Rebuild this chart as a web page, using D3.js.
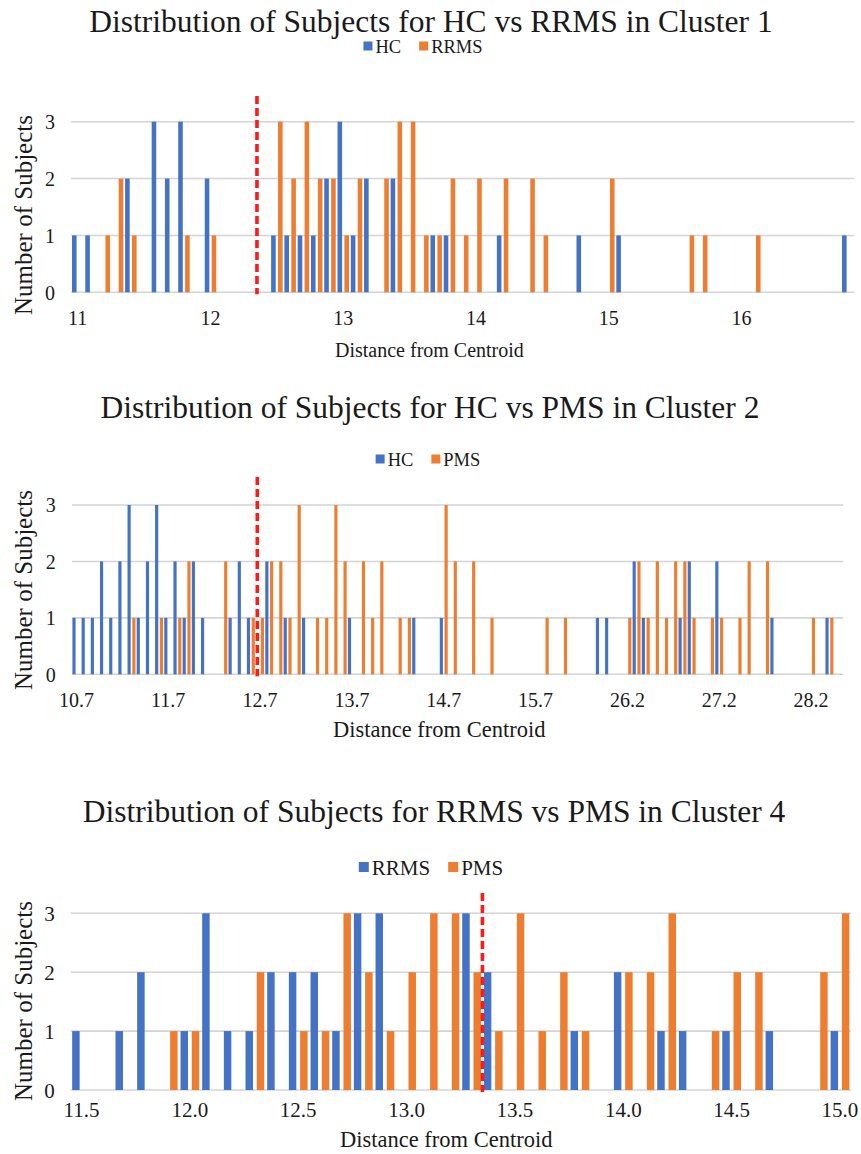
<!DOCTYPE html>
<html>
<head>
<meta charset="utf-8">
<script src="https://cdn.jsdelivr.net/npm/d3@7"></script>
<style>
  body { margin: 0; background: #fff; }
  svg { display: block; }
  text { font-family: "Liberation Serif", "Times New Roman", serif; fill: #1a1a1a; }
</style>
</head>
<body>
<svg id="chart" width="861" height="1154"></svg>
<script>
// ---- Cluster 1: HC vs RRMS (distance bins of 0.1) ----
const cluster1Distances = [
  11.0, 11.1, 11.2, 11.3, 11.4, 11.5, 11.6, 11.7, 11.8, 11.9,
  12.0, 12.1, 12.2, 12.3, 12.4, 12.5, 12.6, 12.7, 12.8, 12.9,
  13.0, 13.1, 13.2, 13.3, 13.4, 13.5, 13.6, 13.7, 13.8, 13.9,
  14.0, 14.1, 14.2, 14.3, 14.4, 14.5, 14.6, 14.7, 14.8, 14.9,
  15.0, 15.1, 15.2, 15.3, 15.4, 15.5, 15.6, 15.7, 15.8, 15.9,
  16.0, 16.1, 16.2, 16.3, 16.4, 16.5, 16.6, 16.7, 16.8];
const cluster1HC = [
  1, 1, 0, 0, 2, 0, 3, 2, 3, 0,
  2, 0, 0, 0, 0, 1, 1, 1, 1, 2,
  3, 1, 2, 0, 2, 0, 0, 1, 1, 0,
  0, 0, 1, 0, 0, 0, 0, 0, 1, 0,
  0, 1, 0, 0, 0, 0, 0, 0, 0, 0,
  0, 0, 0, 0, 0, 0, 0, 0, 1];
const cluster1RRMS = [
  0, 0, 1, 2, 1, 0, 0, 0, 1, 0,
  1, 0, 0, 0, 0, 3, 2, 3, 2, 2,
  1, 2, 0, 2, 3, 3, 1, 1, 2, 1,
  2, 0, 2, 0, 2, 1, 0, 0, 0, 0,
  2, 0, 0, 0, 0, 0, 1, 1, 0, 0,
  0, 1, 0, 0, 0, 0, 0, 0, 0];
const cluster1TickLabels = ["11", "12", "13", "14", "15", "16"];
const cluster1Cutoff = 12.35;

// ---- Cluster 2: HC vs PMS (two separate distance ranges) ----
const cluster2Distances = [
  10.7, 10.8, 10.9, 11.0, 11.1, 11.2, 11.3, 11.4, 11.5, 11.6,
  11.7, 11.8, 11.9, 12.0, 12.1, 12.2, 12.3, 12.4, 12.5, 12.6,
  12.7, 12.8, 12.9, 13.0, 13.1, 13.2, 13.3, 13.4, 13.5, 13.6,
  13.7, 13.8, 13.9, 14.0, 14.1, 14.2, 14.3, 14.4, 14.5, 14.6,
  14.7, 14.8, 14.9, 15.0, 15.1, 15.2, 15.3, 15.4, 15.5, 15.6,
  15.7, 15.8, 15.9, 16.0, 16.1, 16.2, 16.3, 16.4, 16.5, 16.6,
  26.2, 26.3, 26.4, 26.5, 26.6, 26.7, 26.8, 26.9, 27.0, 27.1,
  27.2, 27.3, 27.4, 27.5, 27.6, 27.7, 27.8, 27.9, 28.0, 28.1,
  28.2, 28.3, 28.4, 28.5];
const cluster2HC = [
  1, 1, 1, 2, 1, 2, 3, 1, 2, 3,
  1, 2, 1, 2, 1, 0, 0, 1, 2, 1,
  0, 2, 0, 1, 0, 1, 0, 0, 0, 0,
  1, 0, 0, 0, 0, 0, 0, 1, 0, 0,
  1, 0, 0, 0, 0, 0, 0, 0, 0, 0,
  0, 0, 0, 0, 0, 0, 0, 1, 1, 0,
  0, 2, 1, 0, 0, 0, 1, 2, 0, 0,
  2, 0, 0, 0, 0, 0, 1, 0, 0, 0,
  0, 0, 1, 0];
const cluster2PMS = [
  0, 0, 0, 0, 0, 0, 1, 0, 0, 1,
  0, 1, 2, 0, 0, 0, 2, 0, 0, 1,
  1, 2, 2, 1, 3, 0, 1, 1, 3, 2,
  0, 2, 1, 2, 0, 1, 1, 0, 0, 0,
  3, 2, 0, 2, 0, 1, 0, 0, 0, 0,
  0, 1, 0, 1, 0, 0, 0, 0, 0, 0,
  1, 2, 1, 2, 1, 2, 2, 1, 0, 1,
  1, 0, 1, 2, 0, 2, 0, 0, 0, 0,
  1, 0, 1, 0];
const cluster2TickLabels = ["10.7", "11.7", "12.7", "13.7", "14.7", "15.7", "26.2", "27.2", "28.2"];
const cluster2Cutoff = 12.67;

// ---- Cluster 4: RRMS vs PMS (distance bins of 0.1) ----
const cluster4Distances = [
  11.5, 11.6, 11.7, 11.8, 11.9, 12.0, 12.1, 12.2, 12.3, 12.4,
  12.5, 12.6, 12.7, 12.8, 12.9, 13.0, 13.1, 13.2, 13.3, 13.4,
  13.5, 13.6, 13.7, 13.8, 13.9, 14.0, 14.1, 14.2, 14.3, 14.4,
  14.5, 14.6, 14.7, 14.8, 14.9, 15.0];
const cluster4RRMS = [
  1, 0, 1, 2, 0, 1, 3, 1, 1, 2,
  2, 2, 1, 3, 3, 0, 0, 0, 3, 2,
  0, 0, 0, 1, 0, 2, 0, 1, 1, 0,
  1, 0, 1, 0, 0, 1];
const cluster4PMS = [
  0, 0, 0, 0, 1, 1, 0, 0, 2, 0,
  1, 1, 3, 2, 1, 2, 3, 3, 2, 1,
  3, 1, 2, 1, 0, 2, 2, 3, 0, 1,
  2, 2, 0, 0, 2, 3];
const cluster4TickLabels = ["11.5", "12.0", "12.5", "13.0", "13.5", "14.0", "14.5", "15.0"];
const cluster4Cutoff = 13.35;

const countTicks = [0, 1, 2, 3];
const seriesColors = ["#4472C4", "#ED7D31"];
const cutoffColor = "#FF1A1A";

const svg = d3.select("#chart");

function drawPanel(cfg) {
  const g = svg.append("g");
  const cats = cfg.distances.map(d => d.toFixed(1));

  const x = d3.scaleBand().domain(cats).range([cfg.left, cfg.right]).padding(0);
  const inner = d3.scaleBand().domain([0, 1]).range([0, x.bandwidth()])
    .paddingInner(0.337).paddingOuter(0.13);
  const y = d3.scaleLinear().domain([0, 3]).range([cfg.bottom, cfg.top]);

  // horizontal gridlines
  g.append("g").selectAll("line").data(countTicks).join("line")
    .attr("x1", cfg.left).attr("x2", cfg.right)
    .attr("y1", d => y(d)).attr("y2", d => y(d))
    .attr("stroke", "#d4d4d4").attr("stroke-width", 1.6);

  // y tick labels
  g.append("g").selectAll("text").data(countTicks).join("text")
    .attr("x", cfg.left - 16).attr("y", d => y(d)).attr("dy", "0.36em")
    .attr("text-anchor", "end").attr("font-size", cfg.tickSize)
    .text(d => d);

  // bars, one group per series
  cfg.series.forEach((s, si) => {
    const rows = cats.map((c, i) => ({ c, v: s.values[i] })).filter(r => r.v > 0);
    g.append("g").attr("fill", seriesColors[si])
      .selectAll("rect").data(rows).join("rect")
      .attr("x", r => x(r.c) + inner(si))
      .attr("width", inner.bandwidth())
      .attr("y", r => y(r.v))
      .attr("height", r => y(0) - y(r.v));
  });

  // category labels
  const tickCats = cfg.tickLabels.map(t => (+t).toFixed(1));
  g.append("g").selectAll("text").data(cfg.tickLabels).join("text")
    .attr("x", (t, i) => x(tickCats[i]) + x.bandwidth() / 2)
    .attr("y", cfg.tickBaseline)
    .attr("text-anchor", "middle").attr("font-size", cfg.tickSize)
    .text(t => t);

  // cutoff: interpolate between neighbouring bins
  const d = cfg.distances;
  const k = d.findIndex((v, i) => v <= cfg.cutoff && cfg.cutoff < d[i + 1]);
  const frac = (cfg.cutoff - d[k]) / (d[k + 1] - d[k]);
  const cx = x(cats[k]) + x.bandwidth() / 2 + frac * x.step();
  g.append("line")
    .attr("x1", cx).attr("x2", cx)
    .attr("y1", cfg.cutoffTop).attr("y2", cfg.bottom + 2)
    .attr("stroke", cutoffColor).attr("stroke-width", 3.6)
    .attr("stroke-dasharray", "8,4");

  // axis titles
  g.append("text")
    .attr("x", cfg.xTitleX).attr("y", cfg.xTitleBaseline)
    .attr("font-size", cfg.xTitleSize)
    .text("Distance from Centroid");
  g.append("text")
    .attr("transform", `translate(${cfg.yTitleX},${cfg.yTitleY}) rotate(-90)`)
    .attr("text-anchor", "middle").attr("font-size", cfg.yTitleSize)
    .text("Number of Subjects");

  // chart title
  g.append("text")
    .attr("x", cfg.titleX).attr("y", cfg.titleBaseline)
    .attr("text-anchor", "middle").attr("font-size", 31.5)
    .text(cfg.title);

  // legend, centred above the plot
  const lg = g.append("g");
  let pos = 0;
  cfg.series.forEach((s, si) => {
    const item = lg.append("g").attr("transform", `translate(${pos},0)`);
    item.append("rect")
      .attr("x", 0).attr("y", -cfg.swatch / 2 - 1)
      .attr("width", cfg.swatch).attr("height", cfg.swatch)
      .attr("fill", seriesColors[si]);
    const t = item.append("text")
      .attr("x", cfg.swatch + 3).attr("y", 0).attr("dy", "0.33em")
      .attr("font-size", cfg.legendSize)
      .text(s.name);
    pos += cfg.swatch + 3 + t.node().getComputedTextLength() + 18;
  });
  const lw = pos - 18;
  lg.attr("transform", `translate(${cfg.legendCenter - lw / 2},${cfg.legendY})`);
}

drawPanel({
  title: "Distribution of Subjects for HC vs RRMS in Cluster 1",
  distances: cluster1Distances,
  series: [{ name: "HC", values: cluster1HC }, { name: "RRMS", values: cluster1RRMS }],
  tickLabels: cluster1TickLabels, cutoff: cluster1Cutoff,
  left: 71.1, right: 854.4, bottom: 292.3, top: 121.7, cutoffTop: 96,
  tickBaseline: 325, tickSize: 20,
  xTitleX: 335, xTitleBaseline: 357, xTitleSize: 20,
  yTitleX: 31.5, yTitleY: 215, yTitleSize: 25,
  titleX: 431, titleBaseline: 32, legendY: 47, legendCenter: 423, legendSize: 18.5, swatch: 9
});

drawPanel({
  title: "Distribution of Subjects for HC vs PMS in Cluster 2",
  distances: cluster2Distances,
  series: [{ name: "HC", values: cluster2HC }, { name: "PMS", values: cluster2PMS }],
  tickLabels: cluster2TickLabels, cutoff: cluster2Cutoff,
  left: 71.8, right: 843.2, bottom: 674.3, top: 505, cutoffTop: 477,
  tickBaseline: 707, tickSize: 20,
  xTitleX: 333, xTitleBaseline: 737, xTitleSize: 22.5,
  yTitleX: 31.5, yTitleY: 590, yTitleSize: 25,
  titleX: 430, titleBaseline: 418, legendY: 460, legendCenter: 428, legendSize: 18.5, swatch: 9
});

drawPanel({
  title: "Distribution of Subjects for RRMS vs PMS in Cluster 4",
  distances: cluster4Distances,
  series: [{ name: "RRMS", values: cluster4RRMS }, { name: "PMS", values: cluster4PMS }],
  tickLabels: cluster4TickLabels, cutoff: cluster4Cutoff,
  left: 70.7, right: 850.8, bottom: 1090, top: 913.3, cutoffTop: 893,
  tickBaseline: 1116.5, tickSize: 21,
  xTitleX: 340, xTitleBaseline: 1147, xTitleSize: 22.5,
  yTitleX: 31.5, yTitleY: 1001, yTitleSize: 25,
  titleX: 434, titleBaseline: 822, legendY: 868, legendCenter: 431, legendSize: 21, swatch: 10
});
</script>
</body>
</html>
